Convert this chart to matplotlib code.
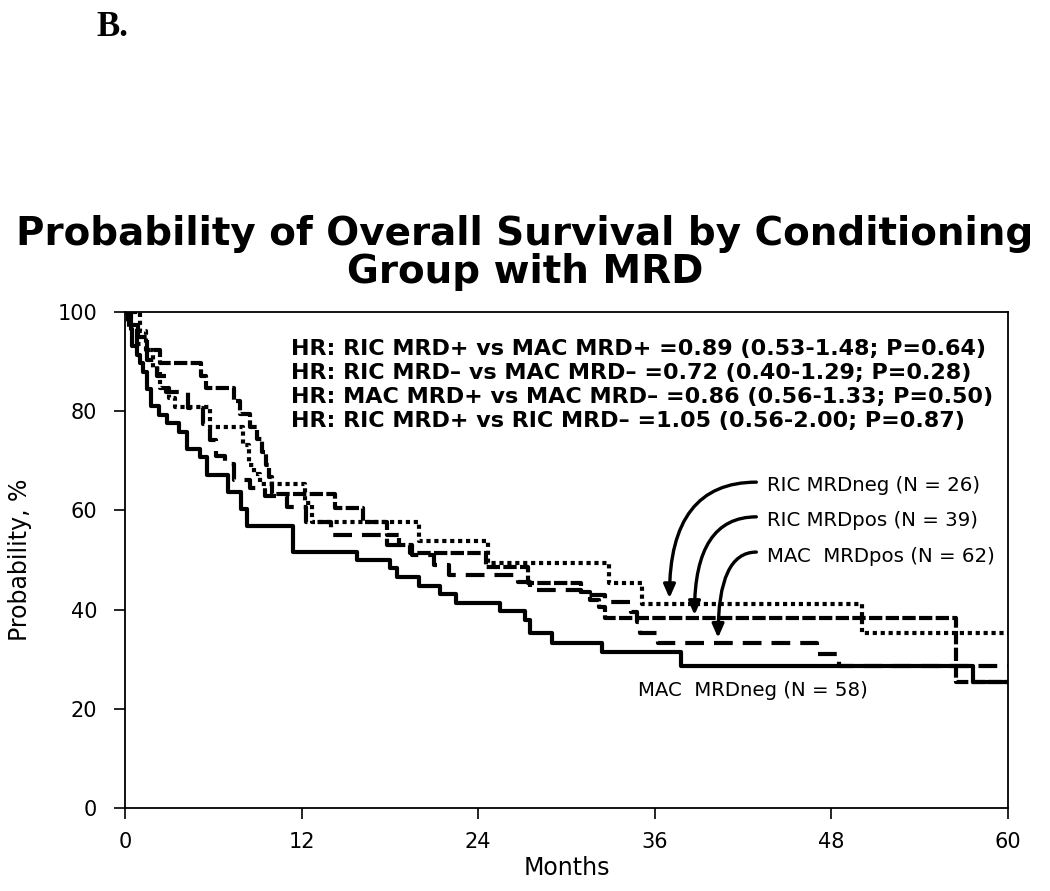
import matplotlib
matplotlib.use("Agg")
import matplotlib.pyplot as plt

# ── Data ───────────────────────────────────────────────────────────
mac_neg_t = [0, 0.2, 0.4, 0.5, 0.8, 1.0, 1.2, 1.5, 1.8, 2.3, 2.85, 3.7, 4.2, 5.1, 5.6,
             7.0, 7.9, 8.3, 11.4, 15.8, 18.0, 18.5, 20.0, 21.4, 22.5, 25.5, 27.2, 27.5,
             29.0, 32.4, 37.8, 57.6, 60]
mac_neg_s = [100, 98.3, 96.6, 93.1, 91.4, 89.7, 87.9, 84.5, 81.0, 79.3, 77.6, 75.9, 72.4,
             70.7, 67.2, 63.8, 60.3, 56.9, 51.7, 50.0, 48.3, 46.6, 44.8, 43.1, 41.4, 39.7,
             37.9, 35.2, 33.3, 31.4, 28.6, 25.4, 25.4]

ric_neg_t = [0, 1.0, 1.4, 1.9, 2.4, 3.0, 3.4, 5.8, 8.0, 8.4, 8.8, 9.2, 12.2, 12.7, 20.0,
             24.7, 32.9, 35.1, 50.1, 60]
ric_neg_s = [100, 96.2, 92.3, 88.5, 84.6, 82.7, 80.8, 76.9, 73.1, 69.2, 67.3, 65.4, 61.5,
             57.7, 53.8, 49.4, 45.4, 41.2, 35.3, 35.3]

ric_pos_t = [0, 0.4, 0.9, 1.5, 2.4, 5.2, 5.5, 7.4, 7.8, 8.5, 9.0, 9.3, 9.6, 9.8, 10.0,
             14.3, 16.2, 17.8, 18.6, 19.4, 24.5, 27.4, 31.0, 31.6, 32.2, 32.6, 56.5, 60]
ric_pos_s = [100, 97.4, 94.9, 92.3, 89.7, 87.2, 84.6, 82.1, 79.5, 76.9, 74.4, 71.8, 69.2,
             66.7, 63.4, 60.4, 57.6, 55.0, 53.0, 51.5, 48.6, 45.4, 43.5, 42.0, 40.5, 38.3,
             25.4, 25.4]

mac_pos_t = [0, 0.3, 0.8, 1.5, 2.2, 2.8, 4.3, 5.3, 5.8, 6.2, 6.8, 7.4, 8.5, 9.5, 11.0,
             12.3, 14.0, 17.8, 19.5, 21.0, 22.0, 26.7, 27.5, 31.0, 32.6, 34.4, 34.8, 35.0,
             36.2, 47.0, 48.5, 60]
mac_pos_s = [100, 96.8, 93.5, 90.3, 87.1, 83.9, 80.6, 77.4, 74.2, 71.0, 69.4, 66.1, 64.5,
             62.9, 60.7, 57.7, 55.0, 53.0, 51.0, 49.0, 47.0, 45.5, 44.0, 43.0, 41.5, 39.5,
             37.5, 35.3, 33.3, 31.0, 28.6, 28.6]

x_ticks = [0, 12, 24, 36, 48, 60]
y_ticks = [0, 20, 40, 60, 80, 100]

hr_lines = [
    "HR: RIC MRD+ vs MAC MRD+ =0.89 (0.53-1.48; P=0.64)",
    "HR: RIC MRD\u2013 vs MAC MRD\u2013 =0.72 (0.40-1.29; P=0.28)",
    "HR: MAC MRD+ vs MAC MRD\u2013 =0.86 (0.56-1.33; P=0.50)",
    "HR: RIC MRD+ vs RIC MRD\u2013 =1.05 (0.56-2.00; P=0.87)",
]
hr_y = [92.5, 87.7, 82.9, 78.0]

arrow_labels = ["RIC MRDneg (N = 26)", "RIC MRDpos (N = 39)", "MAC  MRDpos (N = 62)"]
arrow_label_y = [65.1, 58.0, 50.8]
arrow_tails = [(42.9, 65.7), (42.9, 58.7), (42.9, 51.6)]
arrow_tips = [(37.0, 42.3), (38.7, 38.9), (40.3, 34.3)]

# ── Figure ─────────────────────────────────────────────────────────
plt.rcParams["font.family"] = ["DejaVu Sans"]
fig = plt.figure(figsize=(10.5, 8.91), dpi=100)
ax = fig.add_axes([0.119, 0.0932, 0.841, 0.5566])

lw = 3.0
ax.step(ric_neg_t, ric_neg_s, where="post", color="black", lw=lw,
        linestyle=(0, (1.0, 0.9)))
ax.step(ric_pos_t, ric_pos_s, where="post", color="black", lw=lw,
        linestyle=(0, (3.2, 0.8)))
ax.step(mac_pos_t, mac_pos_s, where="post", color="black", lw=lw,
        linestyle=(0, (4.5, 2.4)))
ax.step(mac_neg_t, mac_neg_s, where="post", color="black", lw=lw,
        linestyle="-", solid_capstyle="butt")

ax.set_xlim(0, 60)
ax.set_ylim(0, 100)
ax.set_xticks(x_ticks)
ax.set_yticks(y_ticks)
ax.tick_params(direction="out", length=8, width=1.2, labelsize=15)
ax.tick_params(axis="x", pad=9)
ax.tick_params(axis="y", pad=12)
for s in ax.spines.values():
    s.set_linewidth(1.3)
ax.set_xlabel("Months", fontsize=17, labelpad=3)
ax.set_ylabel("Probability, %", fontsize=17, labelpad=18)

# HR annotations
for txt, y in zip(hr_lines, hr_y):
    ax.text(11.3, y, txt, fontsize=16, fontweight="bold", va="center", ha="left")

# Curve labels with curved arrows
for txt, y, tail, tip in zip(arrow_labels, arrow_label_y, arrow_tails, arrow_tips):
    ax.text(43.6, y, txt, fontsize=14.2, va="center", ha="left")
    ax.annotate("", xy=tip, xytext=tail,
                arrowprops=dict(arrowstyle="-|>,head_length=0.8,head_width=0.35",
                                color="black", lw=2.4,
                                connectionstyle="angle3,angleA=0,angleB=90",
                                shrinkA=0, shrinkB=0))
ax.text(34.85, 23.6, "MAC  MRDneg (N = 58)", fontsize=14.2, va="center", ha="left")

# Title and panel letter
fig.text(0.5, 1 - 253 / 891, "Probability of Overall Survival by Conditioning\nGroup with MRD",
         ha="center", va="center", fontsize=28, fontweight="bold", linespacing=1.02)
fig.text(0.107, 1 - 27 / 891, "B.", ha="center", va="center", fontsize=25,
         fontweight="bold", family=["Liberation Serif", "DejaVu Serif"])

fig.savefig("out.png", dpi=100, facecolor="white")
